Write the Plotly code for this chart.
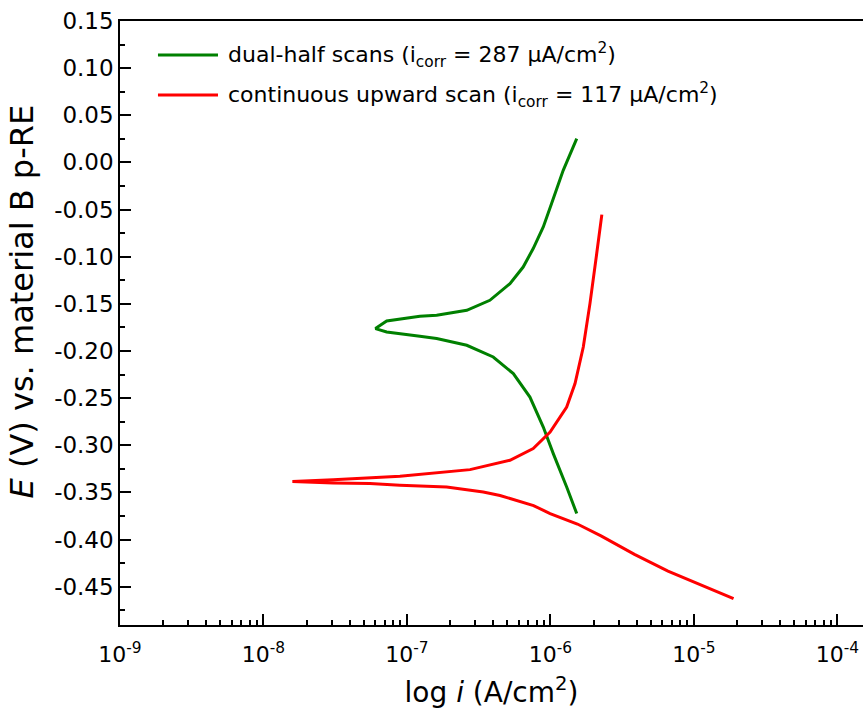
import plotly.graph_objects as go

# Potentiodynamic polarization data: current density (A/cm^2) vs potential (V)
# Dual-half scans: anodic half (upper branch) and cathodic half (lower branch)
dual_i = [1.524e-6, 1.227e-6, 1.018e-6, 8.91e-7, 7.58e-7, 6.45e-7, 5.22e-7,
          3.78e-7, 2.61e-7, 1.61e-7, 1.23e-7, 7.22e-8, 6.03e-8,
          7.22e-8, 1.23e-7, 1.61e-7, 2.61e-7, 3.99e-7, 5.51e-7, 7.19e-7,
          8.91e-7, 1.046e-6, 1.297e-6, 1.524e-6]
dual_E = [0.0253, -0.0084, -0.0437, -0.0685, -0.0914, -0.111, -0.1286,
          -0.1463, -0.1569, -0.1622, -0.1633, -0.1682, -0.1763,
          -0.1799, -0.1845, -0.1869, -0.194, -0.2064, -0.224, -0.2489,
          -0.2807, -0.3089, -0.3443, -0.3725]

# Continuous upward scan: from the cathodic end through E_corr to the anodic end
cont_i = [1.888e-5, 1.133e-5, 6.59e-6, 3.85e-6, 2.25e-6, 1.54e-6, 9.94e-7,
          7.62e-7, 5.81e-7, 4.45e-7, 3.40e-7, 2.75e-7, 1.89e-7, 8.93e-8,
          5.52e-8, 3.06e-8, 1.59e-8,
          3.06e-8, 5.52e-8, 8.93e-8, 2.75e-7, 5.22e-7, 7.58e-7, 9.94e-7,
          1.297e-6, 1.483e-6, 1.693e-6, 1.884e-6, 2.10e-6, 2.28e-6]
cont_E = [-0.4627, -0.4485, -0.4335, -0.4157, -0.3961, -0.3836, -0.3725,
          -0.364, -0.3584, -0.3533, -0.3496, -0.3475, -0.3443, -0.3425,
          -0.3407, -0.3401, -0.3386,
          -0.3367, -0.3344, -0.333, -0.3259, -0.316, -0.3036, -0.286,
          -0.2595, -0.2346, -0.1958, -0.1498, -0.0967, -0.0554]

series_names = ["dual-half scans (i<sub>corr</sub> = 287 μA/cm<sup>2</sup>)",
                "continuous upward scan (i<sub>corr</sub> = 117 μA/cm<sup>2</sup>)"]
series_colors = ["#008000", "#ff0000"]

# Axis ticks
y_ticks = [0.15, 0.10, 0.05, 0.00, -0.05, -0.10, -0.15, -0.20, -0.25,
           -0.30, -0.35, -0.40, -0.45]
y_minor = [0.125, 0.075, 0.025, -0.025, -0.075, -0.125, -0.175, -0.225,
           -0.275, -0.325, -0.375, -0.425, -0.475]
x_exponents = [-9, -8, -7, -6, -5, -4]

FONT = "DejaVu Sans, Liberation Sans, sans-serif"

fig = go.Figure()
fig.add_trace(go.Scatter(x=dual_i, y=dual_E, mode="lines", name=series_names[0],
                         line=dict(color=series_colors[0], width=3)))
fig.add_trace(go.Scatter(x=cont_i, y=cont_E, mode="lines", name=series_names[1],
                         line=dict(color=series_colors[1], width=3)))

x_major = [10.0 ** e for e in x_exponents]
x_minor = [k * 10.0 ** e for e in x_exponents[:-1] for k in range(2, 10)]

fig.update_xaxes(
    type="log", range=[-9, -3.822],
    tickmode="array", tickvals=x_major,
    ticktext=[f"10<sup>{e}</sup>" for e in x_exponents],
    ticks="inside", ticklen=11, tickwidth=1.5, tickcolor="black",
    minor=dict(tickmode="array", tickvals=x_minor, ticks="inside",
               ticklen=5, tickwidth=1.5, tickcolor="black"),
    showline=True, linecolor="black", linewidth=1.5, mirror=True,
    showgrid=False, zeroline=False,
    tickfont=dict(family=FONT, size=22, color="black"),
    ticklabelstandoff=9,
    title=dict(text="log <i>i</i> (A/cm<sup>2</sup>)",
               font=dict(family=FONT, size=28, color="black"), standoff=16),
)
fig.update_yaxes(
    range=[-0.4907, 0.15],
    tickmode="array", tickvals=y_ticks,
    ticktext=[f"{v:.2f}" for v in y_ticks],
    ticks="inside", ticklen=11, tickwidth=1.5, tickcolor="black",
    minor=dict(tickmode="array", tickvals=y_minor, ticks="inside",
               ticklen=5, tickwidth=1.5, tickcolor="black"),
    showline=True, linecolor="black", linewidth=1.5, mirror=False,
    showgrid=False, zeroline=False,
    tickfont=dict(family=FONT, size=23, color="black"),
)

# Vertical axis title, placed to the left of the tick labels
fig.add_annotation(xref="paper", yref="paper", x=-0.1325, y=0.535,
                   xanchor="center", yanchor="middle", showarrow=False,
                   textangle=-90, text="<i>E</i> (V) vs. material B p-RE",
                   font=dict(family=FONT, size=32, color="black"))

# Legend drawn as line samples with labels inside the plot area
legend_rows = [0.9437, 0.8775]
for name, color, yp in zip(series_names, series_colors, legend_rows):
    fig.add_shape(type="line", xref="paper", yref="paper",
                  x0=0.0511, x1=0.1319, y0=yp, y1=yp,
                  line=dict(color=color, width=3))
    fig.add_annotation(xref="paper", yref="paper", x=0.1427, y=yp,
                       xanchor="left", yanchor="middle", showarrow=False,
                       text=name, font=dict(family=FONT, size=22, color="black"))

fig.update_layout(
    width=863, height=719,
    margin=dict(l=120, r=0, t=21, b=94),
    plot_bgcolor="white", paper_bgcolor="white",
    showlegend=False,
)

fig.write_html("out.html")
